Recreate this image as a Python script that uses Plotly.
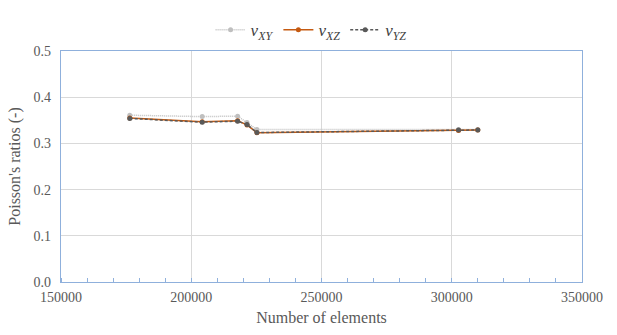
import plotly.graph_objects as go

elements = [176400, 204200, 217800, 221400, 225200, 302600, 310000]
nu_xy = [0.361, 0.358, 0.359, 0.345, 0.330, 0.330, 0.330]
nu_xz = [0.355, 0.347, 0.349, 0.340, 0.323, 0.328, 0.329]
nu_yz = [0.354, 0.346, 0.348, 0.341, 0.3235, 0.329, 0.329]

names = ["<i>ν</i><sub><i>XY</i></sub>", "<i>ν</i><sub><i>XZ</i></sub>", "<i>ν</i><sub><i>YZ</i></sub>"]
series = [nu_xy, nu_xz, nu_yz]
colors = ["#BFBFBF", "#C55A11", "#595959"]
dashes = ["1px,1px", "solid", "3px,2px"]

fig = go.Figure()
for nm, ys, c, d in zip(names, series, colors, dashes):
    fig.add_trace(go.Scatter(
        x=elements, y=ys, name=nm, mode="lines+markers",
        line=dict(color=c, width=1.5, dash=d),
        marker=dict(color=c, size=5, symbol="circle"),
    ))

blue = "#8FB0DC"
font = "Times New Roman"
fig.update_layout(
    width=617, height=335,
    margin=dict(l=60.5, r=35, t=36, b=50.5),
    paper_bgcolor="white", plot_bgcolor="white",
    font=dict(family=font, color="#595959", size=14),
    showlegend=True,
    legend=dict(orientation="h", x=0.48, xanchor="center", y=1.09, yanchor="middle",
                font=dict(family=font, size=17, color="#404040"), itemwidth=30, tracegroupgap=0,
                bgcolor="rgba(0,0,0,0)"),
    xaxis=dict(range=[150000, 350000], dtick=50000, tick0=150000, tickformat="d",
               showgrid=True, gridcolor="#D9D9D9", gridwidth=1,
               showline=True, mirror=True, linecolor=blue, linewidth=1.2,
               ticks="outside", ticklen=2, tickcolor="rgba(0,0,0,0)", zeroline=False,
               minor=dict(ticks="inside", dtick=10000, ticklen=4, tickcolor=blue, showgrid=False),
               title=dict(text="Number of elements", font=dict(family=font, size=16, color="#595959"), standoff=7),
               tickfont=dict(family=font, size=14, color="#595959")),
    yaxis=dict(range=[0, 0.5], dtick=0.1, tickformat=".1f",
               showgrid=True, gridcolor="#D9D9D9", gridwidth=1,
               showline=True, mirror=True, linecolor=blue, linewidth=1.2,
               ticks="outside", ticklen=6, tickcolor="rgba(0,0,0,0)", zeroline=False,
               title=dict(text="Poisson's ratios (-)", font=dict(family=font, size=16, color="#595959"), standoff=8),
               tickfont=dict(family=font, size=14, color="#595959")),
)
fig.write_html("out.html")
